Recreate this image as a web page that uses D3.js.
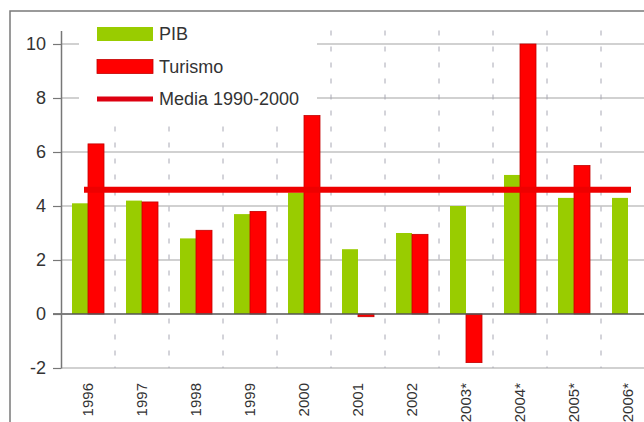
<!DOCTYPE html>
<html>
<head>
<meta charset="utf-8">
<script src="https://cdn.jsdelivr.net/npm/d3@7"></script>
<style>
    body { margin: 0; background: #fff; }
    svg { display: block; font-family: "Liberation Sans", Arial, sans-serif; }
</style>
</head>
<body>
<div class="chart"></div>
<script>
// data
const years = ["1996", "1997", "1998", "1999", "2000", "2001", "2002", "2003*", "2004*", "2005*", "2006*"];
const pib = [4.1, 4.2, 2.8, 3.7, 4.5, 2.4, 3.0, 4.0, 5.15, 4.3, 4.3];
const turismo = [6.3, 4.15, 3.1, 3.8, 7.35, -0.1, 2.95, -1.8, 10.0, 5.5, null];
const media = 4.6;
const yTicks = [-2, 0, 2, 4, 6, 8, 10];
const legendItems = ["PIB", "Turismo", "Media 1990-2000"];

const W = 644, H = 422;

const svg = d3.select(".chart").append("svg")
    .attr("width", W)
    .attr("height", H);

// scales
const x = d3.scaleBand().domain(years).range([61, 655]).padding(0);
const y = d3.scaleLinear().domain([-2, 10.5]).range([368, 30.5]);
const barW = 16;

// outer frame
svg.append("rect")
    .attr("x", 10).attr("y", 11)
    .attr("width", W).attr("height", H)
    .attr("fill", "none")
    .attr("stroke", "#7a7a7a")
    .attr("stroke-width", 1.5);

// horizontal grid
svg.append("g")
    .selectAll("line")
    .data(yTicks.filter(d => d !== 0))
    .join("line")
    .attr("x1", 61).attr("x2", W)
    .attr("y1", d => y(d)).attr("y2", d => y(d))
    .attr("stroke", "#a3a3a3")
    .attr("stroke-width", 1);

// vertical dashed separators
svg.append("g")
    .selectAll("line")
    .data(years.slice(1))
    .join("line")
    .attr("x1", d => x(d)).attr("x2", d => x(d))
    .attr("y1", y(10.5)).attr("y2", y(-2))
    .attr("stroke", "#a8a8b4")
    .attr("stroke-width", 1)
    .attr("stroke-dasharray", "5,11");

// legend background hides the grid, not the bars
svg.append("rect")
    .attr("x", 79).attr("y", 14)
    .attr("width", 238).attr("height", 105)
    .attr("fill", "#fff");

// bars PIB
svg.append("g")
    .selectAll("rect")
    .data(years.map((d, i) => ({year: d, v: pib[i]})))
    .join("rect")
    .attr("x", d => x(d.year) + x.bandwidth() / 2 - barW)
    .attr("y", d => y(Math.max(0, d.v)))
    .attr("width", barW)
    .attr("height", d => Math.abs(y(d.v) - y(0)))
    .attr("fill", "#99cc00");

// bars Turismo
svg.append("g")
    .selectAll("rect")
    .data(years.map((d, i) => ({year: d, v: turismo[i]})).filter(d => d.v !== null))
    .join("rect")
    .attr("x", d => x(d.year) + x.bandwidth() / 2)
    .attr("y", d => y(Math.max(0, d.v)))
    .attr("width", barW)
    .attr("height", d => Math.abs(y(d.v) - y(0)))
    .attr("fill", "#ff0000")
    .attr("stroke", "#c40000")
    .attr("stroke-width", 0.8);

// zero line
svg.append("line")
    .attr("x1", 53).attr("x2", W)
    .attr("y1", y(0)).attr("y2", y(0))
    .attr("stroke", "#555")
    .attr("stroke-width", 1.5);

// media line
svg.append("line")
    .attr("x1", x(years[0]) + x.bandwidth() / 2 - 1)
    .attr("x2", x(years[years.length - 1]) + x.bandwidth() / 2)
    .attr("y1", y(media)).attr("y2", y(media))
    .attr("stroke", "#ee0000")
    .attr("stroke-width", 6)
    .attr("stroke-linecap", "square");

// y axis
const yAxis = svg.append("g")
    .attr("transform", "translate(61,0)")
    .call(d3.axisLeft(y).tickValues(yTicks).tickSize(8).tickPadding(7).tickSizeOuter(0)
        .tickFormat(d => String(d)));
yAxis.select(".domain").attr("stroke", "#777").attr("stroke-width", 1.5);
yAxis.selectAll(".tick line").attr("stroke", "#777").attr("stroke-width", 1.2);
yAxis.selectAll("text")
    .attr("font-size", 18)
    .attr("font-family", "Liberation Sans, Arial, sans-serif")
    .attr("fill", "#333");

// x labels
svg.append("g")
    .selectAll("text")
    .data(years)
    .join("text")
    .attr("transform", d => "translate(" + (x(d) + x.bandwidth() / 2) + ",383) rotate(-90)")
    .attr("text-anchor", "end")
    .attr("dy", "0.35em")
    .attr("font-size", 15)
    .attr("fill", "#333")
    .text(d => d);

// legend
const item = svg.append("g")
    .selectAll("g")
    .data(legendItems)
    .join("g")
    .attr("transform", (d, i) => "translate(97," + (34 + i * 32.5) + ")");

item.filter((d, i) => i < 2)
    .append("rect")
    .attr("x", 0).attr("y", -7)
    .attr("width", 56).attr("height", 14)
    .attr("fill", (d, i) => i === 0 ? "#99cc00" : "#ff0000")
    .attr("stroke", (d, i) => i === 0 ? "none" : "#c40000")
    .attr("stroke-width", 0.8);

item.filter((d, i) => i === 2)
    .append("line")
    .attr("x1", 0).attr("x2", 56)
    .attr("y1", 0).attr("y2", 0)
    .attr("stroke", "#dd0010")
    .attr("stroke-width", 5);

item.append("text")
    .attr("x", 62)
    .attr("dy", "0.35em")
    .attr("font-size", 18)
    .attr("fill", "#333")
    .text(d => d);
</script>
</body>
</html>
